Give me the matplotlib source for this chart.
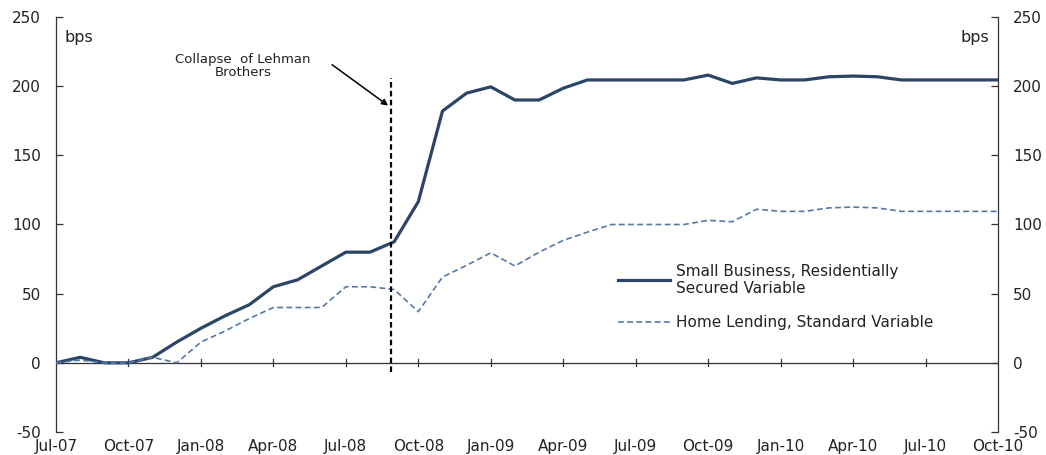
import matplotlib
matplotlib.use("Agg")
import matplotlib.pyplot as plt
import numpy as np

plt.rcParams['font.family'] = ['DejaVu Sans']
plt.rcParams['axes.unicode_minus'] = False

months = ["Jul-07", "Aug-07", "Sep-07", "Oct-07", "Nov-07", "Dec-07",
          "Jan-08", "Feb-08", "Mar-08", "Apr-08", "May-08", "Jun-08",
          "Jul-08", "Aug-08", "Sep-08", "Oct-08", "Nov-08", "Dec-08",
          "Jan-09", "Feb-09", "Mar-09", "Apr-09", "May-09", "Jun-09",
          "Jul-09", "Aug-09", "Sep-09", "Oct-09", "Nov-09", "Dec-09",
          "Jan-10", "Feb-10", "Mar-10", "Apr-10", "May-10", "Jun-10",
          "Jul-10", "Aug-10", "Sep-10", "Oct-10"]

small_business = [0, 4, 0, 0, 4, 15, 25, 34, 42, 55, 60, 70, 80, 80, 87.5,
                  116.5, 182, 195, 199.5, 190, 190, 198.5, 204.5, 204.5,
                  204.5, 204.5, 204.5, 208, 202, 206, 204.5, 204.5, 206.8,
                  207.3, 206.8, 204.5, 204.5, 204.5, 204.5, 204.5]

home_lending = [0, 2, 0, 0, 4, 0, 15, 23, 32, 40, 40, 40, 55, 55, 53,
                37, 62, 70.5, 79.5, 70, 80, 88.5, 94.5, 100, 100, 100, 100,
                103, 102, 111, 109.5, 109.5, 112, 112.6, 112, 109.5, 109.5,
                109.5, 109.5, 109.5]

tick_labels = ["Jul-07", "Oct-07", "Jan-08", "Apr-08", "Jul-08", "Oct-08",
               "Jan-09", "Apr-09", "Jul-09", "Oct-09", "Jan-10", "Apr-10",
               "Jul-10", "Oct-10"]

series_names = ["Small Business, Residentially\nSecured Variable",
                "Home Lending, Standard Variable"]

lehman_pos = 13.85
annotation_text = "Collapse  of Lehman\nBrothers"

W, H = 1046, 455
fig = plt.figure(figsize=(W / 100, H / 100), dpi=100)
ax = fig.add_axes([56 / W, 1 - 432 / H, (998 - 56) / W, (432 - 17) / H])

x = np.arange(len(months))
l1, = ax.plot(x, small_business, color="#2B4467", lw=2.3, zorder=3)
l2, = ax.plot(x, home_lending, color="#5578A8", lw=1.2, dashes=(3.5, 2), zorder=3)

ax.set_xlim(0, len(months) - 1)
ax.set_ylim(-50, 250)
ax.set_yticks(np.arange(-50, 251, 50))

for s in ["top", "bottom"]:
    ax.spines[s].set_visible(False)
for s in ["left", "right"]:
    ax.spines[s].set_linewidth(0.9)
    ax.spines[s].set_color("#333333")

ax.axhline(0, color="#333333", lw=0.9, zorder=2)

tick_pos = [months.index(t) for t in tick_labels]
ax.set_xticks(tick_pos)
ax.set_xticklabels(tick_labels)
ax.tick_params(axis="x", length=0, pad=5, labelsize=11, colors="#222222")
for p in tick_pos[1:-1]:
    ax.plot([p, p], [-2.5, 2.5], color="#333333", lw=0.9, zorder=2)

ax.tick_params(axis="y", direction="in", length=5, width=0.9, pad=11,
               labelsize=11, colors="#333333", labelcolor="#222222",
               left=True, right=True, labelleft=True, labelright=True)

ax.text(0.009, 0.95, "bps", transform=ax.transAxes, fontsize=11.5,
        ha="left", va="center", color="#222222")
ax.text(0.991, 0.95, "bps", transform=ax.transAxes, fontsize=11.5,
        ha="right", va="center", color="#222222")

ax.plot([lehman_pos, lehman_pos], [-6.5, 206], color="black", lw=1.6,
        dashes=(2.5, 1.5), zorder=4)

ax.text(7.74, 214.5, annotation_text, ha="center", va="center", fontsize=9.5,
        color="#222222", linespacing=1.0)
ax.annotate("", xy=(13.75, 186), xytext=(11.43, 215.5),
            arrowprops=dict(arrowstyle="-|>", color="black", lw=1.1,
                            mutation_scale=9, shrinkA=0, shrinkB=0))

leg = ax.legend([l1, l2], series_names, loc="upper left",
                bbox_to_anchor=(0.5905, 0.42), frameon=False, fontsize=11,
                handlelength=3.4, handletextpad=0.4, labelspacing=1.3,
                borderaxespad=0)
for t in leg.get_texts():
    t.set_color("#222222")
    t.set_linespacing(1.15)

fig.savefig("out.png", dpi=100)
